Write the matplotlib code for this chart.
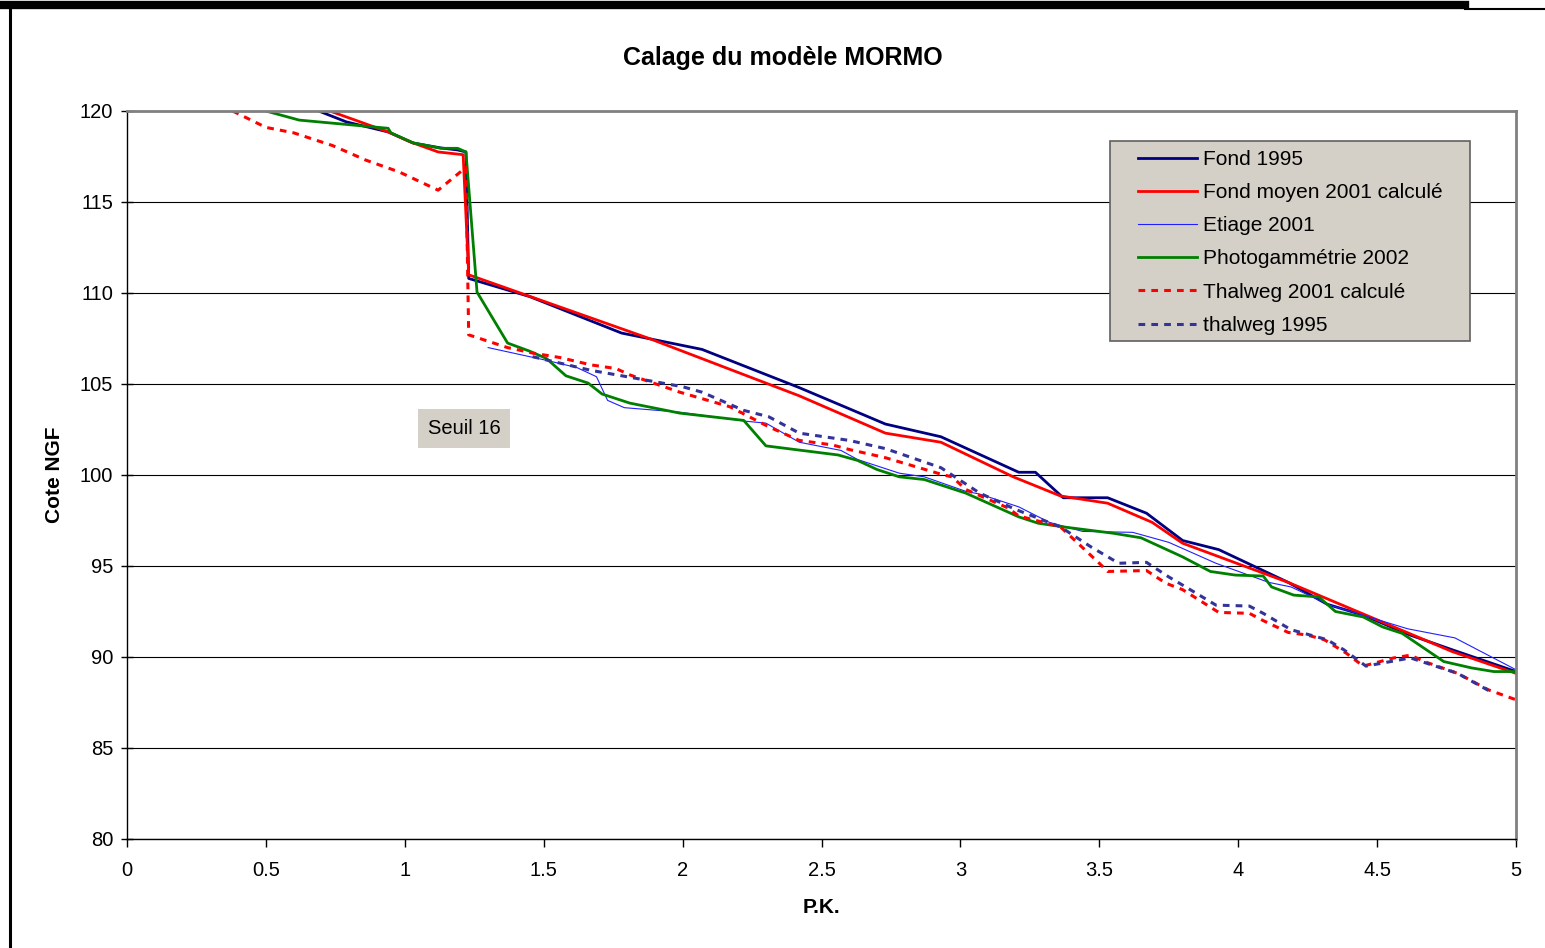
import matplotlib.pyplot as plt
from matplotlib.lines import Line2D
from matplotlib.patches import Rectangle

plt.rcParams['font.family'] = ['Liberation Sans', 'DejaVu Sans']

# Fond 1995
pk_fond95 = [0.69, 0.79, 0.94, 1.03, 1.13, 1.19, 1.22, 1.23, 1.45, 1.78, 2.07, 2.42, 2.73, 2.93,
             3.21, 3.27, 3.37, 3.53, 3.67, 3.80, 3.93, 4.18, 4.32, 4.45, 4.62, 4.77, 5.0]
z_fond95 = [120, 119.4, 118.85, 118.24, 117.97, 117.86, 117.75, 110.8, 109.8, 107.8, 106.9, 104.8,
            102.8, 102.1, 100.15, 100.15, 98.75, 98.75, 97.9, 96.4, 95.9, 94.1, 92.9, 92.3, 91.2,
            90.4, 89.2]

# Fond moyen 2001 calcule
pk_fond01 = [0.73, 0.94, 1.02, 1.12, 1.21, 1.23, 1.88, 2.30, 2.42, 2.73, 2.93, 3.19, 3.36, 3.53,
             3.69, 3.80, 4.18, 4.46, 4.77, 5.0]
z_fond01 = [120, 118.85, 118.3, 117.75, 117.6, 111.0, 107.5, 105.05, 104.35, 102.3, 101.8, 99.9,
            98.85, 98.45, 97.4, 96.25, 94.1, 92.3, 90.3, 89.1]

# Etiage 2001
pk_etiage = [1.30, 1.51, 1.62, 1.69, 1.73, 1.79, 1.99, 2.23, 2.30, 2.42, 2.57, 2.63, 2.78, 2.87,
             3.02, 3.07, 3.21, 3.32, 3.44, 3.62, 3.75, 3.92, 4.11, 4.19, 4.33, 4.61, 4.78, 5.0]
z_etiage = [107.0, 106.3, 105.9, 105.4, 104.1, 103.7, 103.45, 102.95, 102.85, 101.8, 101.35,
            100.85, 100.1, 99.9, 99.1, 98.95, 98.25, 97.4, 96.9, 96.85, 96.3, 95.15, 94.1, 93.85,
            92.85, 91.55, 91.05, 89.3]

# Photogammetrie 2002
pk_photo = [0.50, 0.62, 0.94, 0.95, 1.03, 1.13, 1.19, 1.22, 1.26, 1.37, 1.45, 1.51, 1.58, 1.66,
            1.71, 1.81, 1.99, 2.22, 2.30, 2.56, 2.63, 2.70, 2.78, 2.87, 2.94, 3.02, 3.21, 3.28,
            3.37, 3.55, 3.65, 3.80, 3.90, 3.99, 4.09, 4.12, 4.20, 4.29, 4.35, 4.45, 4.52, 4.59,
            4.74, 4.84, 4.92, 5.0]
z_photo = [120, 119.5, 119.05, 118.8, 118.25, 117.95, 117.95, 117.75, 110.05, 107.25, 106.8,
           106.4, 105.45, 105.05, 104.45, 103.95, 103.4, 103.0, 101.6, 101.1, 100.8, 100.3, 99.9,
           99.75, 99.4, 99.0, 97.7, 97.35, 97.15, 96.8, 96.55, 95.5, 94.7, 94.5, 94.45, 93.85,
           93.4, 93.3, 92.5, 92.2, 91.65, 91.3, 89.75, 89.4, 89.2, 89.2]

# Thalweg 2001 calcule
pk_thal01 = [0.38, 0.50, 0.60, 0.74, 0.86, 0.98, 1.12, 1.20, 1.22, 1.23, 1.37, 1.46, 1.56, 1.67,
             1.76, 1.81, 1.99, 2.17, 2.31, 2.42, 2.54, 2.60, 2.73, 2.94, 2.97, 3.02, 3.17, 3.21,
             3.36, 3.50, 3.53, 3.67, 3.74, 3.80, 3.93, 4.04, 4.09, 4.18, 4.25, 4.31, 4.39, 4.45,
             4.56, 4.62, 4.67, 4.79, 4.90, 5.0]
z_thal01 = [120, 119.1, 118.8, 118.1, 117.3, 116.65, 115.65, 116.65, 116.9, 107.7, 107.0, 106.7,
            106.45, 106.05, 105.85, 105.5, 104.55, 103.75, 102.65, 101.9, 101.65, 101.4, 100.95,
            100.0, 99.9, 99.2, 98.2, 97.75, 97.15, 95.15, 94.7, 94.75, 94.05, 93.7, 92.45, 92.4,
            92.0, 91.35, 91.2, 90.95, 90.2, 89.5, 89.95, 90.1, 89.75, 89.1, 88.2, 87.65]

# thalweg 1995
pk_thal95 = [1.46, 1.67, 1.80, 2.00, 2.07, 2.22, 2.31, 2.42, 2.60, 2.73, 2.93, 2.97, 3.07, 3.20,
             3.36, 3.47, 3.57, 3.67, 3.75, 3.80, 3.92, 4.04, 4.09, 4.19, 4.32, 4.38, 4.46, 4.62,
             4.79, 4.92]
z_thal95 = [106.5, 105.75, 105.4, 104.85, 104.55, 103.55, 103.2, 102.3, 101.9, 101.45, 100.4,
            100.0, 99.0, 98.1, 97.15, 96.05, 95.15, 95.2, 94.4, 93.95, 92.85, 92.8, 92.4, 91.5,
            90.95, 90.4, 89.5, 89.95, 89.1, 88.0]

W, H = 1545, 948
fig = plt.figure(figsize=(W / 100, H / 100), dpi=100)
ax = fig.add_axes([127 / W, 1 - 839 / H, (1516 - 127) / W, (839 - 111) / H])

ax.plot(pk_fond95, z_fond95, color='#000080', lw=2.0, label='Fond 1995')
ax.plot(pk_fond01, z_fond01, color='#FF0000', lw=2.0, label='Fond moyen 2001 calculé')
ax.plot(pk_etiage, z_etiage, color='#2020FF', lw=0.8, label='Etiage 2001')
ax.plot(pk_photo, z_photo, color='#008000', lw=2.0, label='Photogammétrie 2002')
ax.plot(pk_thal01, z_thal01, color='#FF0000', lw=2.2, dashes=(2.2, 2.0),
        label='Thalweg 2001 calculé')
ax.plot(pk_thal95, z_thal95, color='#333399', lw=2.2, dashes=(2.2, 2.0), label='thalweg 1995')

ax.set_xlim(0, 5)
ax.set_ylim(80, 120)
ax.set_xticks([0, 0.5, 1, 1.5, 2, 2.5, 3, 3.5, 4, 4.5, 5])
ax.set_xticklabels(['0', '0.5', '1', '1.5', '2', '2.5', '3', '3.5', '4', '4.5', '5'])
ax.set_yticks(range(80, 121, 5))
ax.yaxis.grid(True, color='black', lw=0.8)
ax.set_axisbelow(True)
ax.tick_params(axis='x', direction='out', length=6, width=1, labelsize=14.5, pad=10)
ax.tick_params(axis='y', direction='inout', length=8, width=1, labelsize=14.5, pad=6)
for s in ['top', 'right']:
    ax.spines[s].set_color('#808080')
    ax.spines[s].set_linewidth(2)
for s in ['left', 'bottom']:
    ax.spines[s].set_color('black')
    ax.spines[s].set_linewidth(1)

ax.set_xlabel('P.K.', fontsize=15, fontweight='bold', labelpad=13)
ax.set_ylabel('Cote NGF', fontsize=15, fontweight='bold', labelpad=11)
fig.text(783 / W, 1 - 58 / H, 'Calage du modèle MORMO', fontsize=18, fontweight='bold',
         ha='center', va='center')

ax.text(1.213, 102.55, 'Seuil 16', fontsize=14.5, ha='center', va='center',
        bbox=dict(facecolor='#D4D0C8', edgecolor='none', pad=7))

# legend box
box = Rectangle((1110 / W, 1 - 341 / H), 360 / W, 200 / H, transform=fig.transFigure,
                facecolor='#D4D0C8', edgecolor='#606060', lw=1.2, zorder=4)
fig.patches.append(box)
leg = fig.legend(loc='upper left', bbox_to_anchor=(1138 / W, 1 - 150 / H), frameon=False,
                 fontsize=15, handlelength=2.85, handletextpad=0.25, labelspacing=0.68,
                 borderpad=0, borderaxespad=0)
leg.set_zorder(5)

# page border
fig.add_artist(Line2D([0, 1465 / W], [1 - 5 / H, 1 - 5 / H], color='black', lw=6))
fig.add_artist(Line2D([1465 / W, 1], [1 - 9 / H, 1 - 9 / H], color='black', lw=1.5))
fig.add_artist(Line2D([9.5 / W, 9.5 / W], [0, 1 - 9 / H], color='black', lw=2.2))

fig.savefig('out.png', dpi=100)
